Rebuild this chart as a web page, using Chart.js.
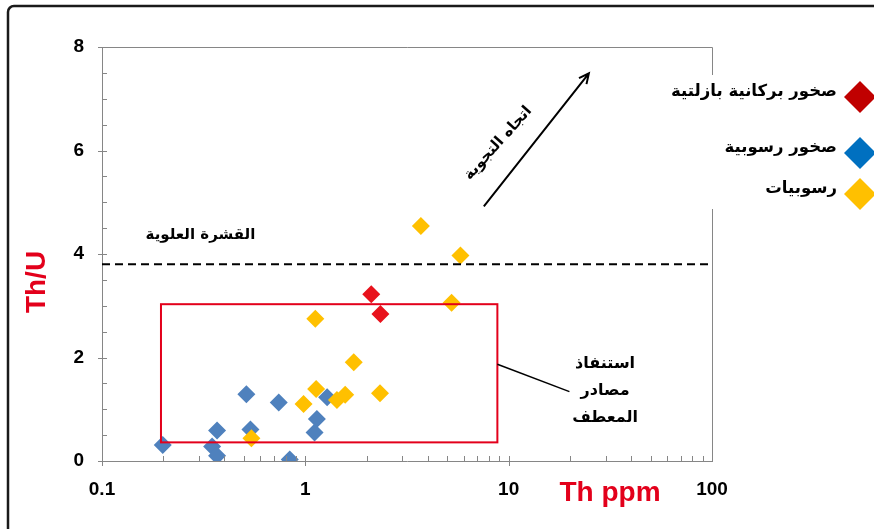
<!DOCTYPE html>
<html>
<head>
<meta charset="utf-8">
<script src="https://cdn.jsdelivr.net/npm/chart.js@4.4.1/dist/chart.umd.min.js"></script>
<style>
  html, body { margin: 0; padding: 0; background: #fff; }
</style>
</head>
<body>
<canvas id="chart" width="874" height="529"></canvas>
<script>
// series
var seriesLabels = ["صخور بركانية بازلتية", "صخور رسوبية", "رسوبيات"];
var volcanicX = [2.11, 2.34];
var volcanicY = [3.22, 2.84];
var sedRockX = [0.513, 0.74, 1.28, 1.14, 1.11, 0.537, 0.368, 0.199, 0.348, 0.368, 0.838];
var sedRockY = [1.29, 1.13, 1.23, 0.81, 0.55, 0.61, 0.59, 0.31, 0.28, 0.10, 0.03];
var sedimentX = [3.70, 5.79, 5.24, 1.12, 1.73, 1.13, 2.33, 1.57, 1.43, 0.98, 0.543];
var sedimentY = [4.54, 3.97, 3.06, 2.75, 1.91, 1.39, 1.31, 1.28, 1.18, 1.10, 0.44];

// axes
var xTicks = [0.1, 1, 10, 100];
var yTicks = [0, 2, 4, 6, 8];

// annotations (data units)
var upperCrust = 3.8;
var sourceBox = [0.195, 8.8, 0.36, 3.03];        // xmin, xmax, ymin, ymax
var weatherArrow = [[7.55, 4.92], [24.8, 7.49]];
var boxLeader = [[8.8, 1.87], [19.9, 1.34]];
var crustLabel = { text: "القشرة العلوية", x: 0.305, y: 4.37 };
var arrowLabel = { text: "اتجاه التجوية", x: 8.87, y: 6.14 };
var boxLabel = { lines: ["استنفاذ", "مصادر", "المعطف"], x: 29.8, y: [1.87, 1.35, 0.83] };

function pts(xs, ys) {
  return xs.map(function (x, i) { return { x: x, y: ys[i] }; });
}

var arabicFont = "'DejaVu Sans', sans-serif";
var latinFont = "'Liberation Sans', Arial, sans-serif";

var decor = {
  id: "decor",
  beforeDraw: function (chart) {
    var ctx = chart.ctx;
    ctx.save();
    ctx.fillStyle = "#fff";
    ctx.fillRect(0, 0, chart.width, chart.height);
    // outer frame
    ctx.strokeStyle = "#1a1a1a";
    ctx.lineWidth = 2.5;
    ctx.beginPath();
    ctx.moveTo(8, 560);
    ctx.lineTo(8, 13);
    ctx.arcTo(8, 6, 15, 6, 6);
    ctx.lineTo(900, 6);
    ctx.stroke();
    ctx.restore();
  },
  afterDatasetsDraw: function (chart) {
    var ctx = chart.ctx, xs = chart.scales.x, ys = chart.scales.y, a = chart.chartArea;
    ctx.save();
    // upper crust dashed line
    var cy = ys.getPixelForValue(upperCrust);
    ctx.strokeStyle = "#000";
    ctx.lineWidth = 2;
    ctx.setLineDash([8, 5]);
    ctx.beginPath();
    ctx.moveTo(a.left, cy);
    ctx.lineTo(a.right, cy);
    ctx.stroke();
    ctx.setLineDash([]);
    // red box
    var bx1 = xs.getPixelForValue(sourceBox[0]), bx2 = xs.getPixelForValue(sourceBox[1]);
    var by1 = ys.getPixelForValue(sourceBox[3]), by2 = ys.getPixelForValue(sourceBox[2]);
    ctx.strokeStyle = "#E3001B";
    ctx.lineWidth = 2;
    ctx.strokeRect(bx1, by1, bx2 - bx1, by2 - by1);
    // leader line
    ctx.strokeStyle = "#000";
    ctx.lineWidth = 1.5;
    ctx.beginPath();
    ctx.moveTo(xs.getPixelForValue(boxLeader[0][0]), ys.getPixelForValue(boxLeader[0][1]));
    ctx.lineTo(xs.getPixelForValue(boxLeader[1][0]), ys.getPixelForValue(boxLeader[1][1]));
    ctx.stroke();
    // weathering arrow
    var ax1 = xs.getPixelForValue(weatherArrow[0][0]), ay1 = ys.getPixelForValue(weatherArrow[0][1]);
    var ax2 = xs.getPixelForValue(weatherArrow[1][0]), ay2 = ys.getPixelForValue(weatherArrow[1][1]);
    var ang = Math.atan2(ay2 - ay1, ax2 - ax1);
    ctx.lineWidth = 2;
    ctx.beginPath();
    ctx.moveTo(ax1, ay1);
    ctx.lineTo(ax2, ay2);
    ctx.moveTo(ax2 - 11 * Math.cos(ang - 0.45), ay2 - 11 * Math.sin(ang - 0.45));
    ctx.lineTo(ax2, ay2);
    ctx.lineTo(ax2 - 11 * Math.cos(ang + 0.45), ay2 - 11 * Math.sin(ang + 0.45));
    ctx.stroke();
    ctx.restore();
  },
  afterDraw: function (chart) {
    var ctx = chart.ctx, xs = chart.scales.x, ys = chart.scales.y, a = chart.chartArea;
    ctx.save();
    // plot frame top / right
    ctx.strokeStyle = "#868686";
    ctx.lineWidth = 1;
    ctx.beginPath();
    ctx.moveTo(a.left, a.top + 0.5);
    ctx.lineTo(a.right + 0.5, a.top + 0.5);
    ctx.lineTo(a.right + 0.5, a.bottom);
    ctx.stroke();
    // tick marks
    ctx.beginPath();
    for (var v = 0; v <= 8; v += 0.5) {
      var py = Math.round(ys.getPixelForValue(v)) + 0.5;
      ctx.moveTo(a.left - (v % 2 === 0 ? 4 : 0), py);
      ctx.lineTo(a.left + 5, py);
    }
    for (var d = 0.1; d < 100; d *= 10) {
      for (var k = 1; k <= 9; k++) {
        var px = Math.round(xs.getPixelForValue(k * d)) + 0.5;
        ctx.moveTo(px, a.bottom + (k === 1 ? 5 : 0));
        ctx.lineTo(px, a.bottom - 5);
      }
    }
    ctx.stroke();

    // axis titles
    ctx.fillStyle = "#E3001B";
    ctx.font = "bold 28px " + latinFont;
    ctx.textAlign = "center";
    ctx.textBaseline = "middle";
    ctx.save();
    ctx.translate(37, 282);
    ctx.rotate(-Math.PI / 2);
    ctx.fillText("Th/U", 0, 0);
    ctx.restore();
    ctx.font = "bold 28px " + latinFont;
    ctx.fillText("Th ppm", 610, 493);

    // annotation texts
    ctx.fillStyle = "#000";
    ctx.font = "bold 15px " + arabicFont;
    ctx.fillText(crustLabel.text, xs.getPixelForValue(crustLabel.x), ys.getPixelForValue(crustLabel.y));
    ctx.save();
    ctx.translate(xs.getPixelForValue(arrowLabel.x), ys.getPixelForValue(arrowLabel.y));
    ctx.rotate(-48 * Math.PI / 180);
    ctx.fillText(arrowLabel.text, 0, 0);
    ctx.restore();
    ctx.font = "bold 16px " + arabicFont;
    boxLabel.lines.forEach(function (t, i) {
      ctx.fillText(t, xs.getPixelForValue(boxLabel.x), ys.getPixelForValue(boxLabel.y[i]));
    });

    // legend
    ctx.fillStyle = "#fff";
    ctx.fillRect(664, 75, 220, 134);
    var rows = [97, 153, 194];
    ctx.font = "bold 16.5px " + arabicFont;
    ctx.textAlign = "right";
    chart.data.datasets.forEach(function (ds, i) {
      var cy = rows[i], cx = 860, h = 16;
      ctx.fillStyle = ds.legendColor;
      ctx.beginPath();
      ctx.moveTo(cx - h, cy);
      ctx.lineTo(cx, cy - h);
      ctx.lineTo(cx + h, cy);
      ctx.lineTo(cx, cy + h);
      ctx.closePath();
      ctx.fill();
      ctx.fillStyle = "#000";
      ctx.fillText(ds.label, 837, cy - 5);
    });
    ctx.restore();
  }
};

var tickFont = { family: latinFont, size: 19, weight: "bold" };

new Chart(document.getElementById("chart"), {
  type: "scatter",
  data: {
    datasets: [
      { label: seriesLabels[0], data: pts(volcanicX, volcanicY), backgroundColor: "#E8121C", legendColor: "#C00000", order: 1 },
      { label: seriesLabels[1], data: pts(sedRockX, sedRockY), backgroundColor: "#4F81BD", legendColor: "#0070C0", order: 3 },
      { label: seriesLabels[2], data: pts(sedimentX, sedimentY), backgroundColor: "#FFC000", legendColor: "#FFC000", order: 2 }
    ]
  },
  options: {
    responsive: false,
    animation: false,
    events: [],
    layout: { padding: { left: 0, top: 47, right: 162, bottom: 0 } },
    elements: { point: { pointStyle: "rectRot", radius: 9, hoverRadius: 9, borderWidth: 0 } },
    plugins: { legend: { display: false }, tooltip: { enabled: false } },
    scales: {
      x: {
        type: "logarithmic",
        min: 0.1,
        max: 100,
        grid: { display: false, drawTicks: false },
        border: { display: true, color: "#868686", width: 1 },
        ticks: { autoSkip: false, maxRotation: 0, padding: 17, color: "#000", font: tickFont,
          callback: function (v) { return String(v); } },
        afterBuildTicks: function (s) { s.ticks = xTicks.map(function (v) { return { value: v }; }); },
        afterFit: function (s) { s.height = 68; s.paddingLeft = 0; s.paddingRight = 0; }
      },
      y: {
        min: 0,
        max: 8,
        grid: { display: false, drawTicks: false },
        border: { display: true, color: "#868686", width: 1 },
        ticks: { padding: 18, color: "#000", font: tickFont },
        afterBuildTicks: function (s) { s.ticks = yTicks.map(function (v) { return { value: v }; }); },
        afterFit: function (s) { s.width = 102; s.paddingTop = 0; s.paddingBottom = 0; }
      }
    }
  },
  plugins: [decor]
});
</script>
</body>
</html>
